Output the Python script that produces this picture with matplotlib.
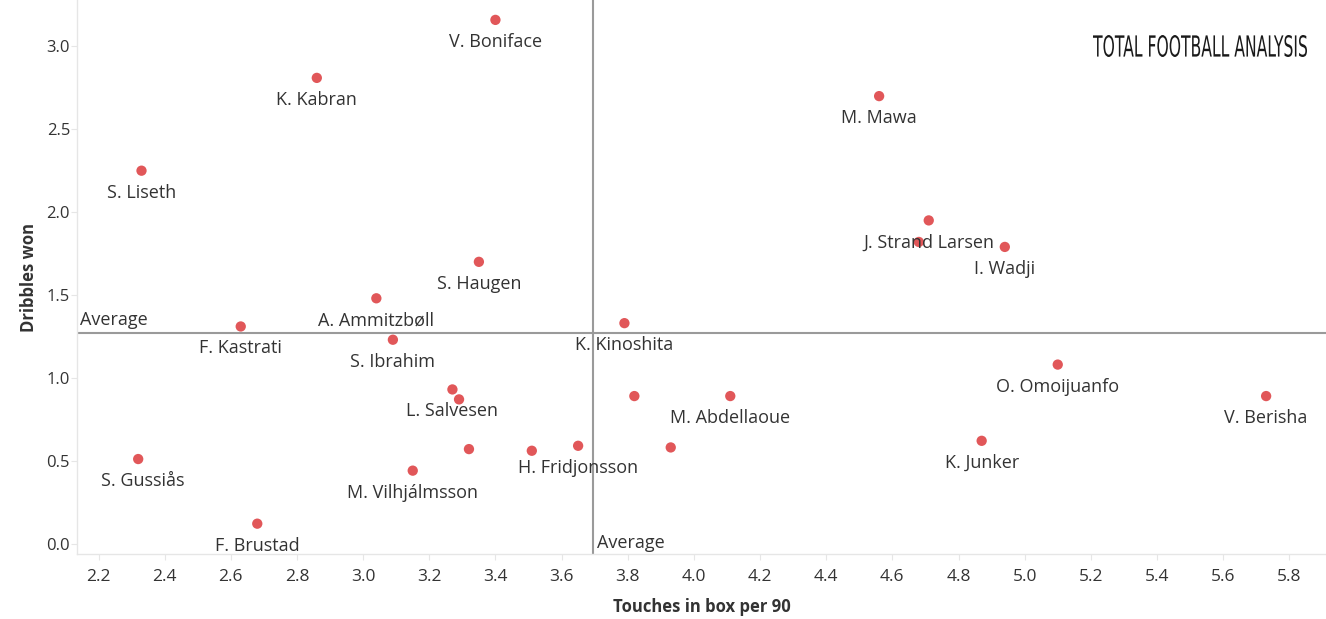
import matplotlib
matplotlib.use("Agg")
import matplotlib.pyplot as plt
from matplotlib.textpath import TextPath
from matplotlib.patches import PathPatch
from matplotlib.font_manager import FontProperties
from matplotlib.transforms import Affine2D, IdentityTransform

# ---- data ----
players = ["V. Boniface", "K. Kabran", "S. Liseth", "M. Mawa", "J. Strand Larsen", "",
           "I. Wadji", "S. Haugen", "A. Ammitzbøll", "F. Kastrati", "K. Kinoshita",
           "S. Ibrahim", "O. Omoijuanfo", "V. Berisha", "M. Abdellaoue", "",
           "L. Salvesen", "", "", "", "H. Fridjonsson", "", "M. Vilhjálmsson",
           "S. Gussiås", "K. Junker", "F. Brustad"]
touches = [3.40, 2.86, 2.33, 4.56, 4.71, 4.68,
           4.94, 3.35, 3.04, 2.63, 3.79,
           3.09, 5.10, 5.73, 4.11, 3.82,
           3.27, 3.29, 3.32, 3.51, 3.65, 3.93, 3.15,
           2.32, 4.87, 2.68]
dribbles = [3.16, 2.81, 2.25, 2.70, 1.95, 1.82,
            1.79, 1.70, 1.48, 1.31, 1.33,
            1.23, 1.08, 0.89, 0.89, 0.89,
            0.93, 0.87, 0.57, 0.56, 0.59, 0.58, 0.44,
            0.51, 0.62, 0.12]
avg_touches = 3.695
avg_dribbles = 1.27
xticks = [2.2, 2.4, 2.6, 2.8, 3.0, 3.2, 3.4, 3.6, 3.8, 4.0, 4.2, 4.4, 4.6, 4.8, 5.0, 5.2, 5.4, 5.6, 5.8]
yticks = [0.0, 0.5, 1.0, 1.5, 2.0, 2.5, 3.0]

# ---- style ----
W, H, DPI = 1326, 619, 100
FONT = ["Open Sans", "DejaVu Sans"]
TXT = "#333333"
DOT = "#e15759"
plt.rcParams["font.family"] = FONT

fig = plt.figure(figsize=(W / DPI, H / DPI), dpi=DPI)
ax = fig.add_axes([77 / W, 65 / H, 1 - 77 / W, 1 - 65 / H])
ax.set_xlim(2.135, 5.911)
ax.set_ylim(-0.063, 3.28)

ax.axvline(avg_touches, color="#9a9a9a", lw=1.5, zorder=1)
ax.axhline(avg_dribbles, color="#9a9a9a", lw=1.5, zorder=1)

ax.scatter(touches, dribbles, s=55, color=DOT, edgecolors="none", zorder=3)

for name, x, y in zip(players, touches, dribbles):
    if name:
        dx = 5 if name == "S. Gussiås" else 0
        ax.annotate(name, (x, y), xytext=(dx, -22), textcoords="offset pixels",
                    ha="center", va="center", fontsize=13, color=TXT, zorder=4)

ax.annotate("Average", (2.135, avg_dribbles), xytext=(3, 13), textcoords="offset pixels",
            ha="left", va="center", fontsize=13, color=TXT)
ax.annotate("Average", (avg_touches, -0.063), xytext=(4, 11), textcoords="offset pixels",
            ha="left", va="center", fontsize=13, color=TXT)

for s in ["top", "right"]:
    ax.spines[s].set_visible(False)
for s in ["left", "bottom"]:
    ax.spines[s].set_color("#e6e6e6")
    ax.spines[s].set_linewidth(1)

ax.set_xticks(xticks)
ax.set_xticklabels([f"{t:.1f}" for t in xticks])
ax.set_yticks(yticks)
ax.set_yticklabels([f"{t:.1f}" for t in yticks])
ax.tick_params(axis="both", colors="#e6e6e6", labelcolor=TXT, length=4)
ax.tick_params(axis="x", pad=7, labelsize=12.5)
ax.tick_params(axis="y", pad=1, labelsize=12)

ax.set_xlabel("Touches in box per 90", fontsize=12, fontweight="bold", color=TXT, labelpad=9)
ax.set_ylabel("Dribbles won", fontsize=12, fontweight="bold", color=TXT, labelpad=6)

# ---- logo ----
tp = TextPath((0, 0), "TOTAL FOOTBALL ANALYSIS", size=10,
              prop=FontProperties(family="DejaVu Sans", weight="normal"))
bb = tp.get_extents()
sx = (1307 - 1093) / bb.width
sy = 22 / bb.height
tr = Affine2D().translate(-bb.x0, -bb.y0).scale(sx, sy).translate(1093, H - 57) + IdentityTransform()
fig.patches.append(PathPatch(tp, transform=tr, facecolor="#1a1a1a", edgecolor="none"))

fig.savefig("out.png", dpi=DPI)
